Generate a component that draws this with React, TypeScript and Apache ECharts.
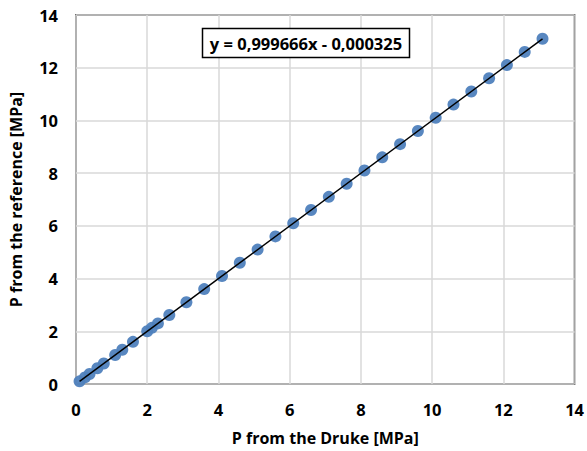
import React, { useEffect, useRef } from "react";
import * as echarts from "echarts";

const druke: number[] = [0.1, 0.25, 0.38, 0.6, 0.78, 1.1, 1.3, 1.6, 2.0, 2.13, 2.3, 2.62, 3.1, 3.6, 4.1, 4.6, 5.1, 5.6, 6.1, 6.6, 7.1, 7.6, 8.1, 8.6, 9.1, 9.6, 10.1, 10.6, 11.1, 11.6, 12.1, 12.6, 13.1];
const reference: number[] = [0.1, 0.25, 0.38, 0.6, 0.78, 1.1, 1.3, 1.6, 2.0, 2.13, 2.3, 2.62, 3.1, 3.6, 4.1, 4.6, 5.1, 5.6, 6.1, 6.6, 7.1, 7.6, 8.1, 8.6, 9.1, 9.6, 10.1, 10.6, 11.1, 11.6, 12.1, 12.6, 13.1];
const slope = 0.999666;
const intercept = -0.000325;
const equationText = "y = 0,999666x - 0,000325";
const xAxisName = "P from the Druke [MPa]";
const yAxisName = "P from the reference [MPa]";

export default function App() {
  const ref = useRef<HTMLDivElement>(null);
  useEffect(() => {
    document.body.style.margin = "0";
    if (!ref.current) return;
    const chart = echarts.init(ref.current, null, { renderer: "svg" });
    const xmin = Math.min(...druke);
    const xmax = Math.max(...druke);
    const font = "Open Sans, Noto Sans, sans-serif";
    chart.setOption({
      animation: false,
      backgroundColor: "#fff",
      grid: {
        left: 76,
        right: 11,
        top: 15,
        bottom: 64,
        show: true,
        borderColor: "#000",
        borderWidth: 1.5,
      },
      xAxis: {
        type: "value",
        min: 0,
        max: 14,
        interval: 2,
        name: xAxisName,
        nameLocation: "middle",
        nameGap: 46,
        nameTextStyle: { fontFamily: font, fontWeight: "bold", fontSize: 16, color: "#000" },
        axisLine: { show: false },
        axisTick: { show: false },
        axisLabel: { fontFamily: font, fontWeight: "bold", fontSize: 16.5, color: "#000", margin: 17 },
        splitLine: { show: true, lineStyle: { color: "#d9d9d9", width: 1.5 } },
      },
      yAxis: {
        type: "value",
        min: 0,
        max: 14,
        interval: 2,
        name: yAxisName,
        nameLocation: "middle",
        nameGap: 52,
        nameTextStyle: { fontFamily: font, fontWeight: "bold", fontSize: 16, color: "#000" },
        axisLine: { show: false },
        axisTick: { show: false },
        axisLabel: { fontFamily: font, fontWeight: "bold", fontSize: 16.5, color: "#000", margin: 18 },
        splitLine: { show: true, lineStyle: { color: "#d9d9d9", width: 1.5 } },
      },
      series: [
        {
          type: "scatter",
          data: druke.map((x, i) => [x, reference[i]]),
          symbol: "circle",
          symbolSize: 12,
          itemStyle: { color: "#4f81bd", opacity: 0.95 },
          z: 2,
        },
        {
          type: "line",
          data: [
            [xmin, slope * xmin + intercept],
            [xmax, slope * xmax + intercept],
          ],
          symbol: "none",
          lineStyle: { color: "#000", width: 1.5 },
          z: 3,
        },
      ],
      graphic: [
        {
          type: "rect",
          shape: { x: 202.5, y: 28.5, width: 207, height: 29 },
          style: { fill: "#fff", stroke: "#000", lineWidth: 1.5 },
          z: 10,
        },
        {
          type: "text",
          x: 306,
          y: 43,
          style: {
            text: equationText,
            fontFamily: font,
            fontWeight: "bold",
            fontSize: 16.5,
            fill: "#000",
            align: "center",
            verticalAlign: "middle",
          },
          z: 11,
        },
      ],
    });
    return () => chart.dispose();
  }, []);
  return <div ref={ref} style={{ width: 587, height: 451 }} />;
}
